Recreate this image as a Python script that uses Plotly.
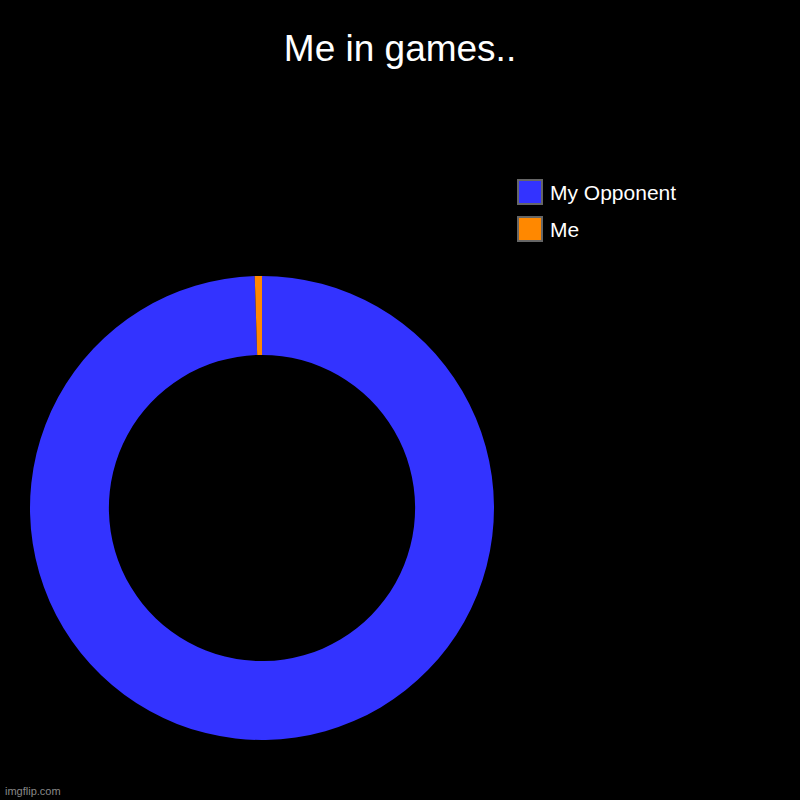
import plotly.graph_objects as go

labels = ["My Opponent", "Me"]
values = [99.5, 0.5]
colors = ["#3333FF", "#FF8800"]
title_text = "Me in games.."
watermark = "imgflip.com"

W = H = 800
def px_x(x):
    return x / W
def px_y(y):
    return 1 - y / H

fig = go.Figure()
fig.add_trace(go.Pie(
    labels=labels, values=values, hole=0.66, sort=False, direction="clockwise",
    rotation=0, marker=dict(colors=colors, line=dict(width=0)),
    textinfo="none", hoverinfo="label+value", showlegend=False,
    domain=dict(x=[px_x(30), px_x(494)], y=[px_y(740), px_y(276)]),
))

shapes = []
annotations = []
for i, (lab, col) in enumerate(zip(labels, colors)):
    top = 180 + i * 37
    shapes.append(dict(type="rect", xref="paper", yref="paper",
                       x0=px_x(518), x1=px_x(542), y0=px_y(top + 24), y1=px_y(top),
                       fillcolor=col, line=dict(color="#666666", width=2)))
    annotations.append(dict(text=lab, xref="paper", yref="paper",
                            x=px_x(548), y=px_y(top + 12), xanchor="left", yanchor="middle",
                            showarrow=False,
                            font=dict(family="Liberation Sans, Arial", size=21, color="white")))

annotations.append(dict(text=watermark, xref="paper", yref="paper",
                        x=px_x(3), y=px_y(791), xanchor="left", yanchor="middle",
                        showarrow=False,
                        font=dict(family="Liberation Sans, Arial", size=11, color="#888888")))

fig.update_layout(
    width=W, height=H,
    paper_bgcolor="black", plot_bgcolor="black",
    margin=dict(l=0, r=0, t=0, b=0),
    title=dict(text=title_text, x=0.5, xanchor="center", y=px_y(48), yanchor="middle",
               font=dict(family="Liberation Sans, Arial", size=37, color="white")),
    shapes=shapes, annotations=annotations,
)

fig.write_html("out.html", config={"displayModeBar": False},
               post_script="document.body.style.margin='0';document.body.style.overflow='hidden';document.body.style.background='black';")
